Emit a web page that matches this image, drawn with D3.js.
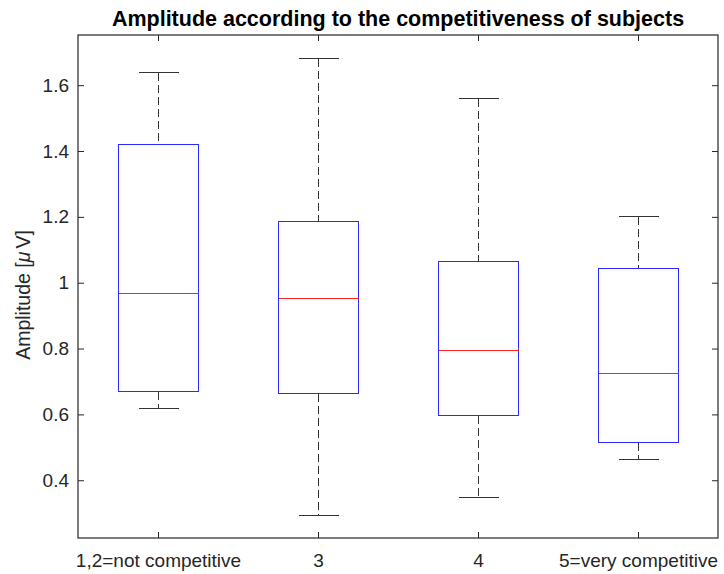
<html>
    <head>
        <script src="https://d3js.org/d3.v7.min.js"></script>
        <style>
            body { margin: 0; background: #fff; }
            text { font-family: "Liberation Sans", Arial, sans-serif; }
        </style>
    </head>
    <body>
        <svg id="chart" width="724" height="574"></svg>
        <script>
            // values
            const categories = ['1,2=not competitive', '3', '4', '5=very competitive'];
            const upperWhisker = [1.641, 1.683, 1.562, 1.203];
            const q3 = [1.422, 1.187, 1.066, 1.045];
            const medians = [0.969, 0.955, 0.796, 0.727];
            const q1 = [0.672, 0.665, 0.598, 0.515];
            const lowerWhisker = [0.618, 0.294, 0.349, 0.464];
            const yTicks = [0.4, 0.6, 0.8, 1, 1.2, 1.4, 1.6];

            const svg = d3.select('svg#chart');
            const axLeft = 78, axRight = 718, axTop = 35, axBottom = 538;
            const tickLen = 6;

            const boxes = categories.map((c, i) => ({
                cat: c, lo: lowerWhisker[i], q1: q1[i], med: medians[i], q3: q3[i], hi: upperWhisker[i]
            }));

            // matlab style limits: data range plus 5% each side
            const ext = [d3.min(lowerWhisker), d3.max(upperWhisker)];
            const pad = (ext[1] - ext[0]) * 0.05;

            const x = d3.scalePoint().domain(categories).range([axLeft, axRight]).padding(0.5);
            const y = d3.scaleLinear().domain([ext[0] - pad, ext[1] + pad]).range([axBottom, axTop]);
            const boxW = x.step() * 0.5;
            const capW = x.step() * 0.25;
            // snap to pixel centres so 1px lines stay sharp
            const py = v => Math.round(y(v)) + 0.5;
            const px = c => Math.round(x(c)) + 0.5;

            svg.append('rect').attr('width', 724).attr('height', 574).attr('fill', '#fff');

            const axisColor = '#262626';

            // axes, ticks inside, mirrored on top and right
            const yLeft = d3.axisLeft(y).tickValues(yTicks).tickSizeInner(-tickLen).tickSizeOuter(0)
                            .tickPadding(9).tickFormat(d3.format('~g'));
            const yRight = d3.axisRight(y).tickValues(yTicks).tickSizeInner(-tickLen).tickSizeOuter(0).tickFormat('');
            const xBottom = d3.axisBottom(x).tickSizeInner(-tickLen).tickSizeOuter(0).tickPadding(16);
            const xTop = d3.axisTop(x).tickSizeInner(-tickLen).tickSizeOuter(0).tickFormat('');

            const gl = svg.append('g').attr('transform', `translate(${axLeft},0)`).call(yLeft);
            const gr = svg.append('g').attr('transform', `translate(${axRight},0)`).call(yRight);
            const gb = svg.append('g').attr('transform', `translate(0,${axBottom})`).call(xBottom);
            const gt = svg.append('g').attr('transform', `translate(0,${axTop})`).call(xTop);

            [gl, gr, gb, gt].forEach(g => {
                g.select('.domain').remove();
                g.selectAll('line').attr('stroke', axisColor);
                g.selectAll('text').attr('fill', axisColor).style('font-size', '19px')
                 .style('font-family', '"Liberation Sans", Arial, sans-serif');
            });

            svg.append('rect')
               .attr('x', axLeft).attr('y', axTop)
               .attr('width', axRight - axLeft).attr('height', axBottom - axTop)
               .attr('fill', 'none').attr('stroke', axisColor).attr('stroke-width', 1.2);

            // boxes
            const g = svg.append('g').attr('shape-rendering', 'crispEdges');
            const b = g.selectAll('g.box').data(boxes).join('g').attr('class', 'box');

            b.append('line')
             .attr('x1', d => px(d.cat)).attr('x2', d => px(d.cat))
             .attr('y1', d => py(d.hi)).attr('y2', d => py(d.q3))
             .attr('stroke', '#333').attr('stroke-dasharray', '8,4');
            b.append('line')
             .attr('x1', d => px(d.cat)).attr('x2', d => px(d.cat))
             .attr('y1', d => py(d.q1)).attr('y2', d => py(d.lo))
             .attr('stroke', '#333').attr('stroke-dasharray', '8,4');
            b.append('line')
             .attr('x1', d => px(d.cat) - capW / 2).attr('x2', d => px(d.cat) + capW / 2)
             .attr('y1', d => py(d.hi)).attr('y2', d => py(d.hi))
             .attr('stroke', '#333');
            b.append('line')
             .attr('x1', d => px(d.cat) - capW / 2).attr('x2', d => px(d.cat) + capW / 2)
             .attr('y1', d => py(d.lo)).attr('y2', d => py(d.lo))
             .attr('stroke', '#333');
            b.append('rect')
             .attr('x', d => px(d.cat) - boxW / 2).attr('width', boxW)
             .attr('y', d => py(d.q3)).attr('height', d => py(d.q1) - py(d.q3))
             .attr('fill', 'none').attr('stroke', '#2a2aff');
            b.append('line')
             .attr('x1', d => px(d.cat) - boxW / 2).attr('x2', d => px(d.cat) + boxW / 2)
             .attr('y1', d => py(d.med)).attr('y2', d => py(d.med))
             .attr('stroke', '#ff2020');

            // title and label
            svg.append('text')
               .attr('x', (axLeft + axRight) / 2).attr('y', 26)
               .attr('text-anchor', 'middle')
               .style('font-size', '21.5px').style('font-weight', 'bold')
               .text('Amplitude according to the competitiveness of subjects');

            const yl = svg.append('text')
               .attr('transform', `translate(30,295) rotate(-90)`)
               .attr('text-anchor', 'middle')
               .attr('fill', axisColor)
               .style('font-size', '19.5px');
            yl.append('tspan').text('Amplitude [');
            yl.append('tspan').style('font-style', 'italic').text('\u03bc');
            yl.append('tspan').attr('dx', 3).text('V]');
        </script>
    </body>
</html>
